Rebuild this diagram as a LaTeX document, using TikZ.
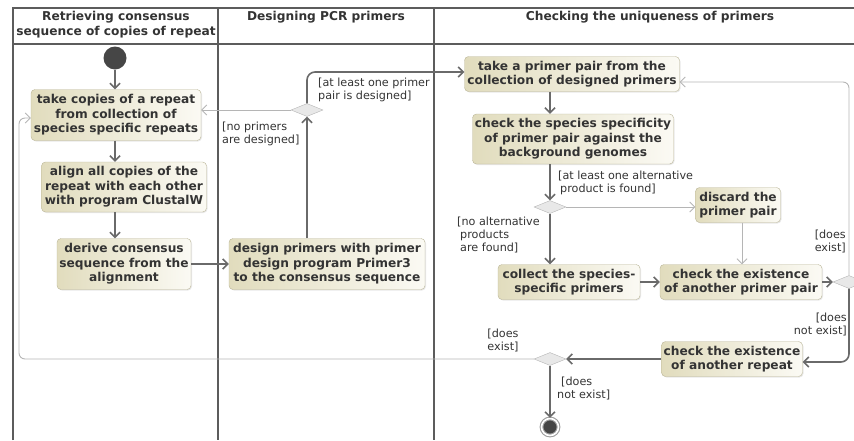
\documentclass[tikz,border=0pt]{standalone}
\usepackage{fontspec}
\setmainfont{DejaVu Sans}
\usetikzlibrary{shapes.geometric, positioning, arrows.meta, shadows}
\definecolor{boxleft}{HTML}{E1DCBD}
\definecolor{boxright}{HTML}{FBFAF4}
\definecolor{boxline}{HTML}{BAB597}
\definecolor{flow}{HTML}{6A6A6A}
\definecolor{thinflow}{HTML}{B5B5B5}
\definecolor{lane}{HTML}{5C5C5C}
\definecolor{txt}{HTML}{333333}
\definecolor{dot}{HTML}{464646}

\begin{document}
\begin{tikzpicture}[x=1pt, y=-1pt,
        act/.style={draw=boxline, rounded corners=4pt, left color=boxleft, right color=boxright,
            drop shadow={opacity=0.18, shadow xshift=1pt, shadow yshift=-1pt},
            align=center, text=txt, inner sep=1pt, font=\fontsize{12.2}{14.5}\selectfont\bfseries},
        choice/.style={diamond, draw=thinflow, fill=black!9, inner sep=0pt,
            minimum width=32pt, minimum height=13pt},
        guard/.style={text=txt, inner sep=0pt, font=\fontsize{11.2}{13}\selectfont},
        header/.style={text=txt, align=center, inner sep=0pt, font=\fontsize{12.2}{15}\selectfont\bfseries},
        main/.style={draw=flow, line width=1.6pt, -{Straight Barb[length=5pt,width=10pt]}},
        side/.style={draw=thinflow, line width=0.9pt, -{Straight Barb[length=5pt,width=10pt]}}]
        \useasboundingbox (0,0) rectangle (854,440);

        % swimlanes
        \draw[lane, line width=1.1pt] (13,440) -- (13,8) -- (880,8);
        \draw[lane, line width=1.1pt] (13,44) -- (880,44);
        \draw[lane, line width=1.1pt] (218,8) -- (218,440)
            (434,8) -- (434,440);
        \node[header, anchor=north] (h1) at (116,11) {Retrieving consensus\\sequence of copies of repeat};
        \node[header, anchor=north] (h2) at (326,11) {Designing PCR primers};
        \node[header, anchor=north] (h3) at (650,11) {Checking the uniqueness of primers};

        % activities
        \node[circle, fill=dot, minimum size=23pt, inner sep=0pt] (init) at (115,58) {};
        \node[act, minimum width=170pt, minimum height=51pt] (copies) at (116,115) {take copies of a repeat\\from collection of\\species specific repeats};
        \node[act, minimum width=165pt, minimum height=50pt] (align) at (124,187) {align all copies of the\\repeat with each other\\with program ClustalW};
        \node[act, minimum width=134pt, minimum height=51pt] (derive) at (124,264) {derive consensus\\sequence from the\\alignment};
        \node[act, minimum width=196pt, minimum height=51pt] (design) at (327,264) {design primers with primer\\design program Primer3\\to the consensus sequence};
        \node[choice] (d1) at (307,110) {};

        \node[act, minimum width=215pt, minimum height=35pt] (pair) at (572,74) {take a primer pair from the\\collection of designed primers};
        \node[act, minimum width=201pt, minimum height=50pt] (spec) at (573,139) {check the species specificity\\of primer pair against the\\background genomes};
        \node[choice] (d2) at (550,207) {};
        \node[act, minimum width=85pt, minimum height=35pt] (discard) at (738,205) {discard the\\primer pair};
        \node[act, minimum width=142pt, minimum height=35pt] (collect) at (569,282) {collect the species-\\specific primers};
        \node[act, minimum width=162pt, minimum height=35pt] (another) at (741,282) {check the existence\\of another primer pair};
        \node[choice] (d3) at (849,282) {};
        \node[act, minimum width=141pt, minimum height=35pt] (repeat) at (732,359) {check the existence\\of another repeat};
        \node[choice] (d4) at (550,359) {};
        \node[circle, fill=dot, draw=black!38, double=white, double distance=1.6pt, line width=1.1pt,
            minimum size=17pt, inner sep=0pt] (final) at (550,427) {};

        % flows
        \coordinate (lp) at (19,118);
        \draw[main] (init) -- (copies.north -| init);
        \draw[main] (copies.south -| init) -- (align.north -| init);
        \draw[main] (align.south -| init) -- (derive.north -| init);
        \draw[main] (derive) -- (design);
        \draw[main] (design.north -| d1) -- (d1.south);
        \draw[side] (d1.west) -- (d1.west -| copies.east);
        \draw[main, rounded corners=8pt] (d1.north) |- ([yshift=2pt]pair.west);
        \draw[main] (pair.south -| d2) -- (spec.north -| d2);
        \draw[main] (spec.south -| d2) -- (d2.north);
        \draw[side] (d2.east) -- (d2.east -| discard.west);
        \draw[main] (d2.south) -- (collect.north -| d2);
        \draw[side] (discard.south -| 742,0) -- (another.north -| 742,0);
        \draw[main] (collect) -- (another);
        \draw[main] (another) -- (d3.west);
        \draw[side, rounded corners=6pt] (d3.north) |- ([yshift=-8pt]pair.east);
        \draw[main, rounded corners=8pt] (d3.south) |- ([yshift=-3pt]repeat.east);
        \draw[main] (repeat.west |- d4) -- (d4.east);
        \draw[side, rounded corners=6pt] (d4.west) -| (lp) -- (lp -| copies.west);
        \draw[main] (d4.south) -- (final.north);

        % guards
        \node[guard, anchor=north west, align=left] (g1) at (318,78) {[at least one primer\\pair is designed]};
        \node[guard, anchor=north west, align=left] (g2) at (222,122) {[no primers\\are designed]};
        \node[guard, anchor=north west, align=left] (g3) at (558,171) {[at least one alternative\\\hspace{2pt}product is found]};
        \node[guard, anchor=north west, align=left] (g4) at (457,217) {[no alternative\\\hspace{3pt}products\\\hspace{3pt}are found]};
        \node[guard, anchor=north east, align=right] (g5) at (846,230) {[does\\exist]};
        \node[guard, anchor=north east, align=right] (g6) at (847,313) {[does\\not exist]};
        \node[guard, anchor=north, align=center] (g7) at (503,329) {[does\\exist]};
        \node[guard, anchor=north west, align=left] (g8) at (557,377) {\hspace{4pt}[does\\not exist]};
\end{tikzpicture}
\end{document}
